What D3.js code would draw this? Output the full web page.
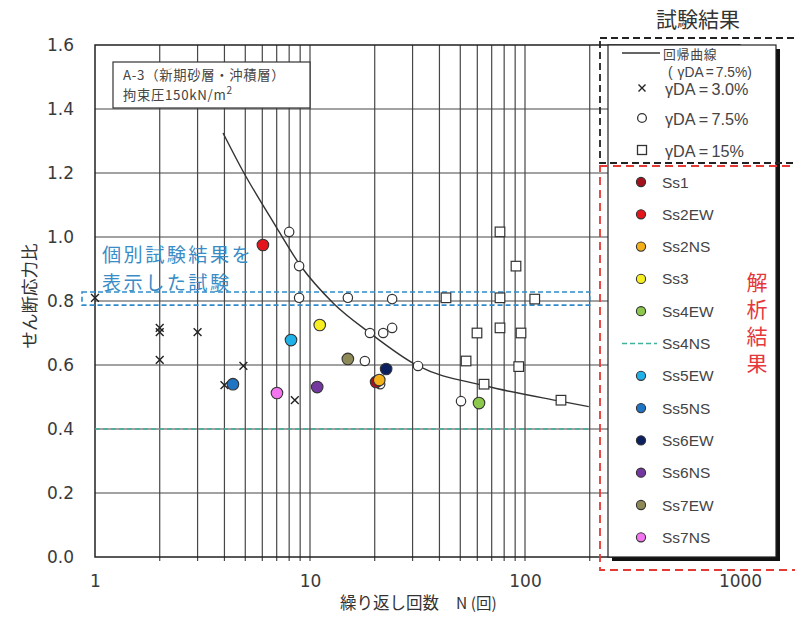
<!DOCTYPE html>
<html><head><meta charset="utf-8">
<script src="https://cdn.jsdelivr.net/npm/d3@7"></script>
<style>body{margin:0;background:#fff} svg{display:block}</style>
</head><body>
<svg id="c" width="795" height="623"></svg>
<script>
// ---- data ----
const xTickValues = [1, 10, 100, 1000];
const xTickLabels = ["1", "10", "100", "1000"];
const yTickValues = [0, 0.2, 0.4, 0.6, 0.8, 1.0, 1.2, 1.4, 1.6];
const yTickLabels = ["0.0", "0.2", "0.4", "0.6", "0.8", "1.0", "1.2", "1.4", "1.6"];

// γDA=3.0% (crosses)
const crossN = [1, 2, 2, 2, 3, 4, 4.9, 8.5];
const crossV = [0.81, 0.716, 0.703, 0.616, 0.703, 0.537, 0.597, 0.49];
// γDA=7.5% (open circles)
const circleN = [8.0, 8.9, 8.9, 15.0, 24.1, 19.0, 21.9, 24.1, 18.0, 31.8, 21.2, 50.4];
const circleV = [1.016, 0.909, 0.81, 0.81, 0.806, 0.70, 0.70, 0.716, 0.6125, 0.597, 0.54, 0.487];
// γDA=15% (open squares)
const squareN = [76.5, 90.8, 42.9, 76.5, 111, 59.8, 76.5, 95.8, 53.2, 93.5, 64.5, 147];
const squareV = [1.016, 0.909, 0.81, 0.81, 0.806, 0.70, 0.716, 0.70, 0.6125, 0.595, 0.54, 0.49];
// regression curve (γDA=7.5%)
const curveN = [3.94, 4.93, 6.66, 8.99, 12.8, 19.0, 31.8, 65.2, 145.5, 198];
const curveV = [1.325, 1.20, 1.053, 0.9125, 0.794, 0.70, 0.597, 0.535, 0.487, 0.470];

// analysis results
const anaNames  = ["Ss1", "Ss2EW", "Ss2NS", "Ss3", "Ss4EW", "Ss4NS", "Ss5EW", "Ss5NS", "Ss6EW", "Ss6NS", "Ss7EW", "Ss7NS"];
const anaColors = ["#a3121c", "#e3151d", "#f4b018", "#f6ee20", "#8cc84b", "#3cb39c", "#1fb2e8", "#1f74c4", "#0c1f5e", "#74379f", "#8e8a58", "#f274ef"];
const anaN      = [20.3, 6.04, 21.0, 11.1, 61.1, null, 8.16, 4.38, 22.6, 10.8, 15.0, 7.02];
const anaV      = [0.547, 0.975, 0.553, 0.725, 0.481, 0.40, 0.678, 0.54, 0.5875, 0.531, 0.619, 0.5125];
const ss4nsRangeN = [1, 200];

// highlighted band (individual test results shown)
const bandV = [0.787, 0.828];
const bandN = [1, 200];

const legendTestValues = ["3.0%", "7.5%", "15%"];

// ---- drawing ----
const svg = d3.select("#c");
const x = d3.scaleLog().domain([1, 1000]).range([95, 740]);
const y = d3.scaleLinear().domain([0, 1.6]).range([557, 45]);
const numFont = "'DejaVu Sans', sans-serif";
const latFont = "'Liberation Sans', Arial, sans-serif";
const jpFont = "'Noto Sans CJK JP', sans-serif";

// grid
const g = svg.append("g");
const minor = [];
for (let d = 1; d <= 100; d *= 10) for (let k = 2; k <= 9; k++) minor.push(d * k);
g.selectAll(".vg").data(minor.concat([10, 100])).enter().append("line")
  .attr("x1", d => x(d)).attr("x2", d => x(d)).attr("y1", y(1.6)).attr("y2", y(0) + 4)
  .attr("stroke", "#474747").attr("stroke-width", 1.2);
g.selectAll(".hg").data(yTickValues.slice(1, -1)).enter().append("line")
  .attr("x1", x(1)).attr("x2", x(1000)).attr("y1", d => y(d)).attr("y2", d => y(d))
  .attr("stroke", "#474747").attr("stroke-width", 1.2);
// frame
g.append("rect").attr("x", x(1)).attr("y", y(1.6)).attr("width", x(1000) - x(1)).attr("height", y(0) - y(1.6))
  .attr("fill", "none").attr("stroke", "#222").attr("stroke-width", 1.5);

// axes labels
svg.append("g").attr("transform", `translate(0,${y(0)})`)
  .call(d3.axisBottom(x).tickValues(xTickValues).tickFormat((d, i) => xTickLabels[i]).tickSize(0).tickPadding(18))
  .call(a => a.select(".domain").remove())
  .selectAll("text").attr("font-family", numFont).attr("font-size", 17).attr("fill", "#3a3a3a");
svg.append("g").attr("transform", `translate(${x(1)},0)`)
  .call(d3.axisLeft(y).tickValues(yTickValues).tickFormat((d, i) => yTickLabels[i]).tickSize(0).tickPadding(21))
  .call(a => a.select(".domain").remove())
  .selectAll("text").attr("font-family", numFont).attr("font-size", 17).attr("fill", "#3a3a3a");

svg.append("text").attr("x", 340).attr("y", 609).attr("font-family", jpFont).attr("font-size", 16.5)
  .attr("fill", "#333").text("繰り返し回数");
svg.append("text").attr("x", 456).attr("y", 609).attr("font-family", jpFont).attr("font-size", 15.5)
  .attr("fill", "#333").text("N (回)");
svg.append("text").attr("transform", "translate(36,296) rotate(-90)").attr("text-anchor", "middle")
  .attr("font-family", jpFont).attr("font-size", 17.5).attr("fill", "#333").text("せん断応力比");

// band box
svg.append("rect").attr("x", 82).attr("y", y(bandV[1])).attr("width", x(bandN[1]) - 82)
  .attr("height", y(bandV[0]) - y(bandV[1])).attr("fill", "none")
  .attr("stroke", "#2f8ccb").attr("stroke-width", 1.6).attr("stroke-dasharray", "5,3");

// Ss4NS line
svg.append("line").attr("x1", x(ss4nsRangeN[0])).attr("x2", x(ss4nsRangeN[1]))
  .attr("y1", y(anaV[5])).attr("y2", y(anaV[5]))
  .attr("stroke", anaColors[5]).attr("stroke-width", 1.6).attr("stroke-dasharray", "5,3");

// regression curve
const curvePts = curveN.map((n, i) => [x(n), y(curveV[i])]);
svg.append("path").attr("d", d3.line().curve(d3.curveMonotoneX)(curvePts))
  .attr("fill", "none").attr("stroke", "#333").attr("stroke-width", 1.4);

// crosses
const cs = 3.9;
svg.append("g").selectAll("path").data(crossN.map((n, i) => [n, crossV[i]])).enter().append("path")
  .attr("d", d => { const px = x(d[0]), py = y(d[1]); return `M${px-cs},${py-cs}L${px+cs},${py+cs}M${px-cs},${py+cs}L${px+cs},${py-cs}`; })
  .attr("stroke", "#222").attr("stroke-width", 1.4);
// open circles
svg.append("g").selectAll("circle").data(circleN.map((n, i) => [n, circleV[i]])).enter().append("circle")
  .attr("cx", d => x(d[0])).attr("cy", d => y(d[1])).attr("r", 4.7)
  .attr("fill", "#fff").attr("stroke", "#333").attr("stroke-width", 1.2);
// squares
svg.append("g").selectAll("rect").data(squareN.map((n, i) => [n, squareV[i]])).enter().append("rect")
  .attr("x", d => x(d[0]) - 4.8).attr("y", d => y(d[1]) - 4.8).attr("width", 9.6).attr("height", 9.6)
  .attr("fill", "#fff").attr("stroke", "#333").attr("stroke-width", 1.2);
// analysis points
svg.append("g").selectAll("circle").data(anaNames.map((n, i) => i).filter(i => anaN[i] !== null)).enter().append("circle")
  .attr("cx", i => x(anaN[i])).attr("cy", i => y(anaV[i])).attr("r", 5.8)
  .attr("fill", i => anaColors[i]).attr("stroke", "#333").attr("stroke-width", 1.1);

// annotation box
svg.append("rect").attr("x", 113).attr("y", 62).attr("width", 197).attr("height", 46)
  .attr("fill", "#fff").attr("stroke", "#333").attr("stroke-width", 1.2);
svg.append("text").attr("x", 123).attr("y", 79.5).attr("font-family", jpFont).attr("font-size", 13.3)
  .attr("letter-spacing", 0.7).attr("fill", "#444").text("A-3（新期砂層・沖積層）");
const t2 = svg.append("text").attr("x", 123).attr("y", 100).attr("font-family", jpFont).attr("font-size", 13.3)
  .attr("letter-spacing", 0.7).attr("fill", "#444");
t2.append("tspan").text("拘束圧150kN/m");
t2.append("tspan").attr("font-size", 10).attr("dy", -6).text("2");

// blue note
svg.append("text").attr("x", 102).attr("y", 262).attr("font-family", jpFont).attr("font-size", 19.2)
  .attr("letter-spacing", 2.4).attr("fill", "#3a8cc6").text("個別試験結果を");
svg.append("text").attr("x", 102).attr("y", 290).attr("font-family", jpFont).attr("font-size", 19.2)
  .attr("letter-spacing", 2.4).attr("fill", "#3a8cc6").text("表示した試験");

// ---- legend ----
svg.append("rect").attr("x", 612).attr("y", 49).attr("width", 168).attr("height", 512).attr("fill", "#111");
svg.append("rect").attr("x", 608).attr("y", 45).attr("width", 168).attr("height", 512)
  .attr("fill", "#fff").attr("stroke", "#222").attr("stroke-width", 1.2);
svg.append("text").attr("x", 698).attr("y", 27).attr("text-anchor", "middle").attr("font-family", jpFont)
  .attr("font-size", 21).attr("fill", "#333").text("試験結果");

// test legend
svg.append("line").attr("x1", 622).attr("x2", 660).attr("y1", 53).attr("y2", 53).attr("stroke", "#333").attr("stroke-width", 1.3);
svg.append("text").attr("x", 663).attr("y", 58.5).attr("font-family", jpFont).attr("font-size", 12.8)
  .attr("letter-spacing", 0.8).attr("fill", "#444").text("回帰曲線");
const sub = svg.append("text").attr("x", 668).attr("y", 76.5).attr("font-family", latFont).attr("font-size", 13.8)
  .attr("fill", "#444");
sub.append("tspan").text("(");
sub.append("tspan").attr("dx", 5).text("γDA");
sub.append("tspan").attr("dx", 2).text("=");
sub.append("tspan").attr("dx", 2).text("7.5%)");
const legY = [88, 118, 150];
const lm = svg.append("g");
lm.append("path").attr("d", `M${642-3.5},${legY[0]-3.5}L${642+3.5},${legY[0]+3.5}M${642-3.5},${legY[0]+3.5}L${642+3.5},${legY[0]-3.5}`)
  .attr("stroke", "#222").attr("stroke-width", 1.4);
lm.append("circle").attr("cx", 642).attr("cy", legY[1]).attr("r", 4.4).attr("fill", "#fff").attr("stroke", "#333").attr("stroke-width", 1.3);
lm.append("rect").attr("x", 642 - 4.5).attr("y", legY[2] - 4.5).attr("width", 9).attr("height", 9).attr("fill", "#fff").attr("stroke", "#333").attr("stroke-width", 1.3);
legendTestValues.forEach((v, i) => {
  const t = svg.append("text").attr("x", 665).attr("y", legY[i] + 6.5).attr("font-family", latFont).attr("font-size", 16.2)
    .attr("fill", "#444");
  t.append("tspan").text("γDA");
  t.append("tspan").attr("dx", 3.2).text("=");
  t.append("tspan").attr("dx", 3.2).text(v);
});

// analysis legend
const legStart = 182, legStep = 32.3;
anaNames.forEach((n, i) => {
  const ly = legStart + i * legStep;
  if (anaN[i] === null) {
    svg.append("line").attr("x1", 622).attr("x2", 657).attr("y1", ly).attr("y2", ly)
      .attr("stroke", anaColors[i]).attr("stroke-width", 1.6).attr("stroke-dasharray", "5,3");
  } else {
    svg.append("circle").attr("cx", 641).attr("cy", ly).attr("r", 4.6)
      .attr("fill", anaColors[i]).attr("stroke", "#333").attr("stroke-width", 1.1);
  }
  svg.append("text").attr("x", 662).attr("y", ly + 5.5).attr("font-family", latFont).attr("font-size", 15.5)
    .attr("fill", "#444").text(n);
});
// vertical red label
svg.append("text").attr("x", 757).attr("y", 272).attr("writing-mode", "vertical-rl")
  .attr("font-family", jpFont).attr("font-size", 21).attr("letter-spacing", 5.8)
  .attr("fill", "#e5383c").text("解析結果");

// dashed group boxes
svg.append("rect").attr("x", 600).attr("y", 38).attr("width", 210).attr("height", 125)
  .attr("fill", "none").attr("stroke", "#222").attr("stroke-width", 1.8).attr("stroke-dasharray", "7,4");
svg.append("rect").attr("x", 600).attr("y", 166).attr("width", 210).attr("height", 404)
  .attr("fill", "none").attr("stroke", "#e53935").attr("stroke-width", 1.8).attr("stroke-dasharray", "8,5");
</script>
</body></html>
